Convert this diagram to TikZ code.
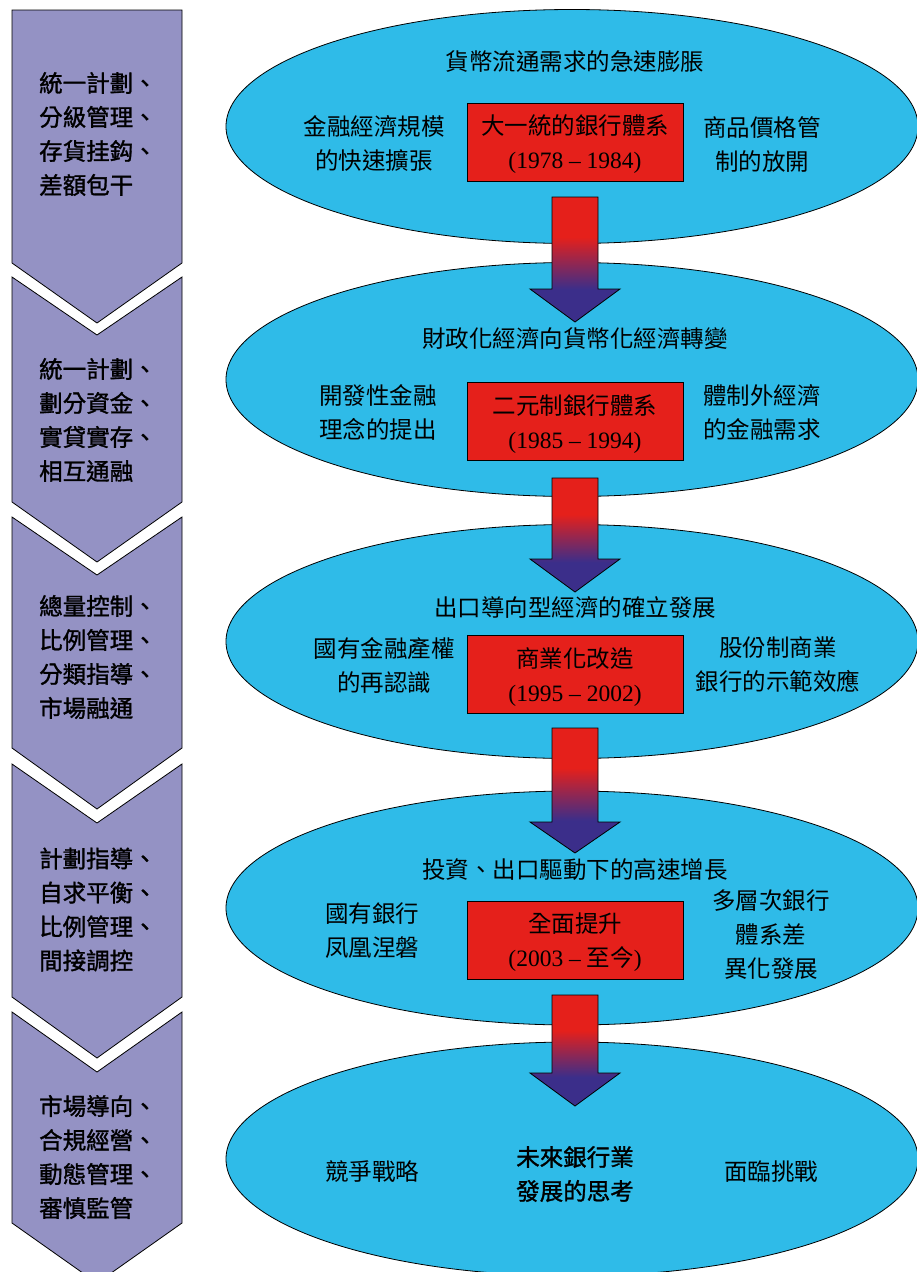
\documentclass[tikz,border=0pt]{standalone}
\usepackage{fontspec}
\setmainfont{Liberation Serif}
\newfontfamily\cjk{Noto Sans CJK TC}
\newfontfamily\cjkb[FakeBold=1.3]{Noto Sans CJK TC}
\usetikzlibrary{shapes.geometric}
\definecolor{ellcyan}{RGB}{47,187,232}
\definecolor{chevlav}{RGB}{148,146,196}
\definecolor{boxred}{RGB}{229,32,27}
\definecolor{arrnavy}{RGB}{59,46,138}
\pgfdeclareverticalshading{arrowshade}{100bp}{color(0bp)=(arrnavy); color(38bp)=(arrnavy); color(59bp)=(boxred); color(100bp)=(boxred)}
\newcommand\blockarrow[4]{% x, top, head top, tip
  \path[barrow] (#1-23,#2) -- (#1+23,#2) -- (#1+23,#3) -- (#1+45,#3) -- (#1,#4) -- (#1-45,#3) -- (#1-23,#3) -- cycle;}
\begin{document}
\begin{tikzpicture}[x=1pt,y=-1pt,
  ell/.style={ellipse, draw=black, line width=0.8pt, fill=ellcyan, minimum width=692pt, minimum height=234pt, inner sep=0pt},
  rbox/.style={draw=black, line width=0.8pt, fill=boxred, minimum width=216pt, minimum height=78pt, inner sep=0pt},
  txt/.style={font=\cjk\fontsize{23.5}{34}\selectfont, align=center, inner sep=0pt},
  btxt/.style={font=\cjkb\fontsize{23.5}{34}\selectfont, align=center, inner sep=0pt},
  chev/.style={draw=black, line width=0.8pt, fill=chevlav},
  ctxt/.style={font=\cjkb\fontsize{23.5}{34}\selectfont, align=left, anchor=west, inner sep=0pt},
  barrow/.style={draw=black, line width=0.8pt, shade, shading=arrowshade}]
\useasboundingbox (0,0) rectangle (916,1272);
\fill[white] (0,0) rectangle (916,1272);

% ellipses
\node[ell] (e1) at (572,126.5) {};
\node[ell] (e2) at (572,379.5) {};
\node[ell] (e3) at (572,641.5) {};
\node[ell] (e4) at (572,908) {};
\node[ell] (e5) at (572,1159) {};

% boxes
\node[rbox] (b1) at (575,142) {};
\node[rbox] (b2) at (575,421.5) {};
\node[rbox] (b3) at (575,674.5) {};
\node[rbox] (b4) at (575,940) {};

% ellipse 1
\node[txt] (t1) at (575,62) {貨幣流通需求的急速膨脹};
\node[txt] (l1) at (374,144) {金融經濟規模\\的快速擴張};
\node[txt] (b1t) at (575,144) {大一統的銀行體系\\{\rmfamily (1978 – 1984)}};
\node[txt] (r1) at (762,144) {商品價格管\\制的放開};

% ellipse 2
\node[txt] (t2) at (575,339) {財政化經濟向貨幣化經濟轉變};
\node[txt] (l2) at (378,412) {開發性金融\\理念的提出};
\node[txt] (b2t) at (575,424) {二元制銀行體系\\{\rmfamily (1985 – 1994)}};
\node[txt] (r2) at (762,412) {體制外經濟\\的金融需求};

% ellipse 3
\node[txt] (t3) at (575,607) {出口導向型經濟的確立發展};
\node[txt] (l3) at (384,665) {國有金融產權\\的再認識};
\node[txt] (b3t) at (575,677) {商業化改造\\{\rmfamily (1995 – 2002)}};
\node[txt] (r3) at (778,665) {股份制商業\\銀行的示範效應};

% ellipse 4
\node[txt] (t4) at (575,870) {投資、出口驅動下的高速增長};
\node[txt] (l4) at (372,930.5) {國有銀行\\凤凰涅磐};
\node[txt] (b4t) at (575,942.5) {全面提升\\{\rmfamily (2003 – }至今{\rmfamily )}};
\node[txt] (r4) at (771,934.5) {多層次銀行\\體系差\\異化發展};

% ellipse 5
\node[txt] (l5) at (372,1172) {競爭戰略};
\node[btxt] (c5) at (575,1174) {未來銀行業\\發展的思考};
\node[txt] (r5) at (771,1172) {面臨挑戰};

% block arrows
\blockarrow{575}{197}{289}{322}
\blockarrow{575}{478}{559}{592}
\blockarrow{575}{728}{822}{853}
\blockarrow{575}{995}{1073}{1106}

% chevrons
\draw[chev] (12,10) -- (182,10) -- (182,263) -- (97,323) -- (12,263) -- cycle;
\draw[chev] (12,277) -- (97,335) -- (182,277) -- (182,502) -- (97,562) -- (12,502) -- cycle;
\draw[chev] (12,517) -- (97,575) -- (182,517) -- (182,748) -- (97,809) -- (12,748) -- cycle;
\draw[chev] (12,764) -- (97,823) -- (182,764) -- (182,997) -- (97,1058) -- (12,997) -- cycle;
\draw[chev] (12,1012) -- (97,1072) -- (182,1012) -- (182,1223) -- (97,1283) -- (12,1223) -- cycle;

\node[ctxt] (k1) at (39,134) {統一計劃、\\分級管理、\\存貨挂鈎、\\差額包干};
\node[ctxt] (k2) at (39,420) {統一計劃、\\劃分資金、\\實貸實存、\\相互通融};
\node[ctxt] (k3) at (39,657) {總量控制、\\比例管理、\\分類指導、\\市場融通};
\node[ctxt] (k4) at (39,909.5) {計劃指導、\\自求平衡、\\比例管理、\\間接調控};
\node[ctxt] (k5) at (39,1157) {市場導向、\\合規經營、\\動態管理、\\審慎監管};
\end{tikzpicture}
\end{document}
